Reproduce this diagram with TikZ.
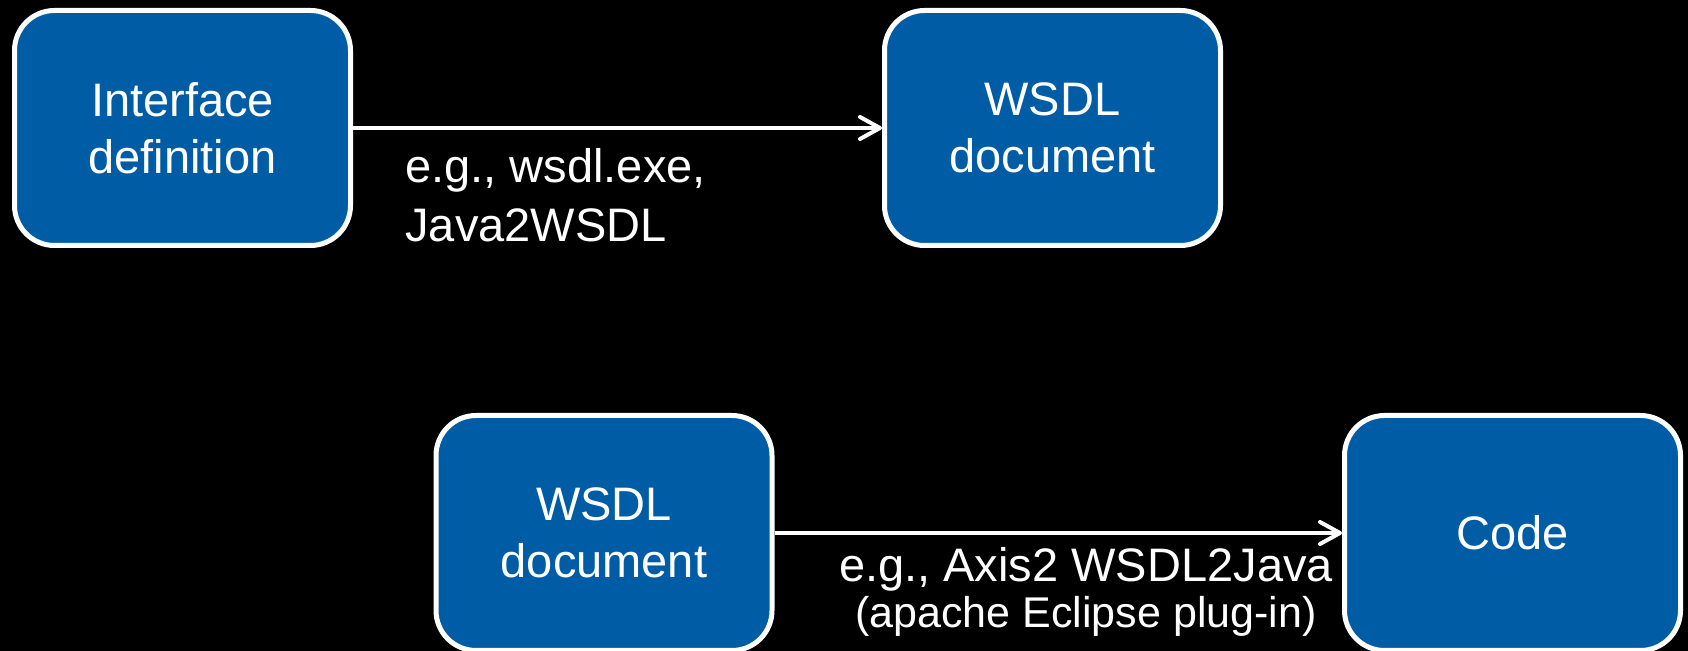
\documentclass[tikz,border=0pt]{standalone}
\usepackage{fontspec}
\setmainfont{Liberation Sans}
\usetikzlibrary{arrows.meta}
\definecolor{boxblue}{RGB}{0,92,165}
\begin{document}
\begin{tikzpicture}[x=0.5pt,y=-0.5pt,
  stage/.style={draw=white, line width=2.5pt, fill=boxblue, rounded corners=20pt,
    minimum width=168pt, minimum height=117.5pt, inner sep=0pt, align=center,
    text=white, font=\fontsize{23.5pt}{28.5pt}\selectfont},
  flow/.style={draw=white, line width=2pt,
    -{Straight Barb[length=10pt,width=11pt,line cap=round,line join=round]}},
  note/.style={text=white, inner sep=0pt}]
% black page
\fill[black] (0,0) rectangle (1688,651);
\useasboundingbox (0,0) rectangle (1688,651);

% first step: interface -> WSDL
\node[stage] (iface) at (182.5,128) {Interface\\definition};
\node[stage] (wsdlA) at (1052.5,128) {WSDL\\document};
\draw[flow] (iface.east) -- (wsdlA.west);
\node[note, anchor=base west, align=left, font=\fontsize{23.5pt}{29.5pt}\selectfont]
  (toolA) at (405,242) {e.g., wsdl.exe,\\Java2WSDL};

% second step: WSDL -> code
\node[stage] (wsdlB) at (604,533) {WSDL\\document};
\node[stage] (code) at (1512.5,533) {Code};
\draw[flow] (wsdlB.east) -- (code.west);
\node[note, anchor=base, align=center, font=\fontsize{23.5pt}{23pt}\selectfont]
  (toolB) at (1086,628) {e.g., Axis2 WSDL2Java\\{\fontsize{21.5pt}{23pt}\selectfont (apache Eclipse plug-in)}};
\end{tikzpicture}
\end{document}
